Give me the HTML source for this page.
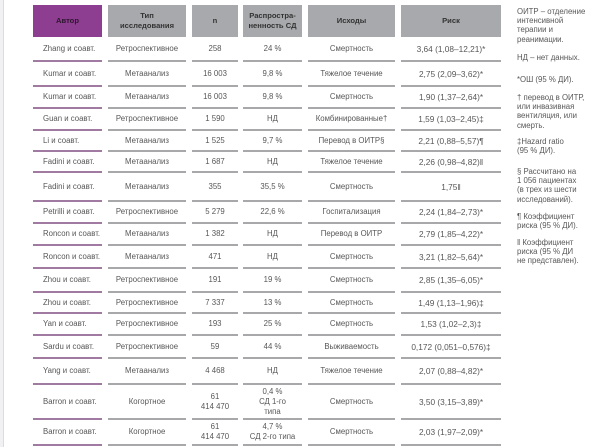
<!DOCTYPE html>
<html>
<head>
<meta charset="utf-8">
<style>
  html, body { margin:0; padding:0; }
  body { width:600px; height:447px; position:relative; background:#fff; overflow:hidden;
         font-family:"Liberation Sans","Noto Sans CJK SC",sans-serif; color:#575757; }
  .edge { position:absolute; left:0; top:0; width:3px; height:447px; background:#f1f1f3; border-right:1px solid #dcdce0; }
  .hd { position:absolute; top:5px; height:32px; background:#a7a9ac; display:flex; align-items:center; justify-content:center;
        text-align:center; font-weight:bold; font-size:7.6px; line-height:9.6px; color:#333; }
  .hd.p { background:#8d3e90; color:#2e1630; }
  .row { position:absolute; left:0; width:600px; }
  .c { position:absolute; top:0; bottom:0; display:flex; align-items:center; justify-content:center; text-align:center;
       font-size:7.8px; line-height:10px; box-sizing:border-box; white-space:nowrap; }
  .c::after { content:""; position:absolute; left:0; right:0; bottom:-1px; height:2px; background:#a8a8aa; }
  .c1 { left:33px; width:69px; justify-content:flex-start; padding-left:10px; text-align:left; }
  .c1::after { background:#a07aa1; }
  .c2 { left:108px; width:78px; }
  .c3 { left:192px; width:46px; }
  .c4 { left:243px; width:59px; }
  .c5 { left:308px; width:87px; }
  .c6 { left:401px; width:100px; font-size:8.3px; }
  .n { position:absolute; left:517px; font-size:7.8px; line-height:9.2px; color:#585858; white-space:nowrap; }
</style>
</head>
<body>
<div class="edge"></div>

<div class="hd p" style="left:33px;width:69px;">Автор</div>
<div class="hd" style="left:108px;width:78px;">Тип<br>исследования</div>
<div class="hd" style="left:192px;width:46px;">n</div>
<div class="hd" style="left:243px;width:59px;">Распростра-<br>ненность СД</div>
<div class="hd" style="left:308px;width:87px;">Исходы</div>
<div class="hd" style="left:401px;width:100px;">Риск</div>

<div class="row" style="top:37px;height:24px;"><div class="c c1">Zhang и соавт.</div><div class="c c2">Ретроспективное</div><div class="c c3">258</div><div class="c c4">24 %</div><div class="c c5">Смертность</div><div class="c c6">3,64 (1,08–12,21)*</div></div>
<div class="row" style="top:61px;height:25px;"><div class="c c1">Kumar и соавт.</div><div class="c c2">Метаанализ</div><div class="c c3">16 003</div><div class="c c4">9,8 %</div><div class="c c5">Тяжелое течение</div><div class="c c6">2,75 (2,09–3,62)*</div></div>
<div class="row" style="top:86px;height:22px;"><div class="c c1">Kumar и соавт.</div><div class="c c2">Метаанализ</div><div class="c c3">16 003</div><div class="c c4">9,8 %</div><div class="c c5">Смертность</div><div class="c c6">1,90 (1,37–2,64)*</div></div>
<div class="row" style="top:108px;height:22px;"><div class="c c1">Guan и соавт.</div><div class="c c2">Ретроспективное</div><div class="c c3">1 590</div><div class="c c4">НД</div><div class="c c5">Комбинированные†</div><div class="c c6">1,59 (1,03–2,45)‡</div></div>
<div class="row" style="top:130px;height:21px;"><div class="c c1">Li и соавт.</div><div class="c c2">Метаанализ</div><div class="c c3">1 525</div><div class="c c4">9,7 %</div><div class="c c5">Перевод в ОИТР§</div><div class="c c6">2,21 (0,88–5,57)¶</div></div>
<div class="row" style="top:151px;height:21px;"><div class="c c1">Fadini и соавт.</div><div class="c c2">Метаанализ</div><div class="c c3">1 687</div><div class="c c4">НД</div><div class="c c5">Тяжелое течение</div><div class="c c6">2,26 (0,98–4,82)‖</div></div>
<div class="row" style="top:172px;height:29px;"><div class="c c1">Fadini и соавт.</div><div class="c c2">Метаанализ</div><div class="c c3">355</div><div class="c c4">35,5 %</div><div class="c c5">Смертность</div><div class="c c6">1,75‖</div></div>
<div class="row" style="top:201px;height:22px;"><div class="c c1">Petrilli и соавт.</div><div class="c c2">Ретроспективное</div><div class="c c3">5 279</div><div class="c c4">22,6 %</div><div class="c c5">Госпитализация</div><div class="c c6">2,24 (1,84–2,73)*</div></div>
<div class="row" style="top:223px;height:22px;"><div class="c c1">Roncon и соавт.</div><div class="c c2">Метаанализ</div><div class="c c3">1 382</div><div class="c c4">НД</div><div class="c c5">Перевод в ОИТР</div><div class="c c6">2,79 (1,85–4,22)*</div></div>
<div class="row" style="top:245px;height:23px;"><div class="c c1">Roncon и соавт.</div><div class="c c2">Метаанализ</div><div class="c c3">471</div><div class="c c4">НД</div><div class="c c5">Смертность</div><div class="c c6">3,21 (1,82–5,64)*</div></div>
<div class="row" style="top:268px;height:24px;"><div class="c c1">Zhou и соавт.</div><div class="c c2">Ретроспективное</div><div class="c c3">191</div><div class="c c4">19 %</div><div class="c c5">Смертность</div><div class="c c6">2,85 (1,35–6,05)*</div></div>
<div class="row" style="top:292px;height:21px;"><div class="c c1">Zhou и соавт.</div><div class="c c2">Ретроспективное</div><div class="c c3">7 337</div><div class="c c4">13 %</div><div class="c c5">Смертность</div><div class="c c6">1,49 (1,13–1,96)‡</div></div>
<div class="row" style="top:313px;height:22px;"><div class="c c1">Yan и соавт.</div><div class="c c2">Ретроспективное</div><div class="c c3">193</div><div class="c c4">25 %</div><div class="c c5">Смертность</div><div class="c c6">1,53 (1,02–2,3)‡</div></div>
<div class="row" style="top:335px;height:23px;"><div class="c c1">Sardu и соавт.</div><div class="c c2">Ретроспективное</div><div class="c c3">59</div><div class="c c4">44 %</div><div class="c c5">Выживаемость</div><div class="c c6">0,172 (0,051–0,576)‡</div></div>
<div class="row" style="top:358px;height:26px;"><div class="c c1">Yang и соавт.</div><div class="c c2">Метаанализ</div><div class="c c3">4 468</div><div class="c c4">НД</div><div class="c c5">Тяжелое течение</div><div class="c c6">2,07 (0,88–4,82)*</div></div>
<div class="row" style="top:384px;height:35px;"><div class="c c1">Barron и соавт.</div><div class="c c2">Когортное</div><div class="c c3">61<br>414 470</div><div class="c c4">0,4 %<br>СД 1-го<br>типа</div><div class="c c5">Смертность</div><div class="c c6">3,50 (3,15–3,89)*</div></div>
<div class="row" style="top:419px;height:26px;"><div class="c c1">Barron и соавт.</div><div class="c c2">Когортное</div><div class="c c3">61<br>414 470</div><div class="c c4">4,7 %<br>СД 2-го типа</div><div class="c c5">Смертность</div><div class="c c6">2,03 (1,97–2,09)*</div></div>

<div class="n" style="top:7px;">ОИТР – отделение<br>интенсивной<br>терапии и<br>реанимации.</div>
<div class="n" style="top:53px;">НД – нет данных.</div>
<div class="n" style="top:75px;">*ОШ (95 % ДИ).</div>
<div class="n" style="top:93px;">† перевод в ОИТР,<br>или инвазивная<br>вентиляция, или<br>смерть.</div>
<div class="n" style="top:137px;">‡Hazard ratio<br>(95 % ДИ).</div>
<div class="n" style="top:167px;">§ Рассчитано на<br>1 056 пациентах<br>(в трех из шести<br>исследований).</div>
<div class="n" style="top:212px;">¶ Коэффициент<br>риска (95 % ДИ).</div>
<div class="n" style="top:238px;">‖ Коэффициент<br>риска (95 % ДИ<br>не представлен).</div>
</body>
</html>
